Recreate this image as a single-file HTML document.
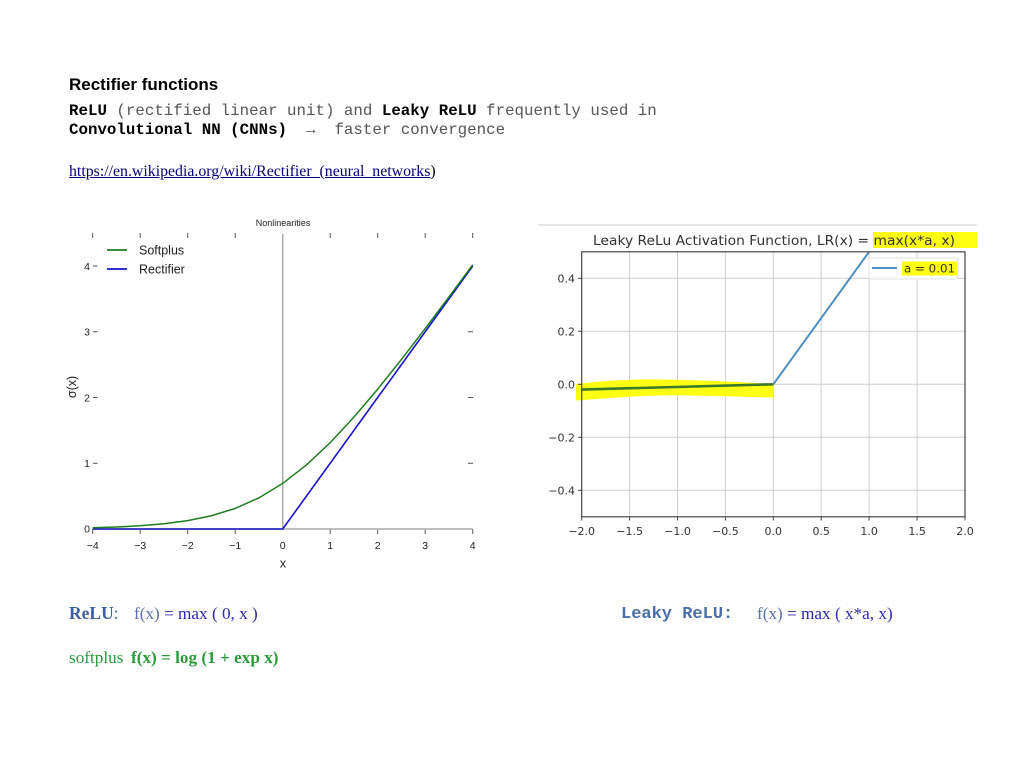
<!DOCTYPE html>
<html>
<head>
<meta charset="utf-8">
<style>
  html,body{margin:0;padding:0;background:#fff;}
  body{width:1024px;height:768px;overflow:hidden;position:relative;}
  .t{position:absolute;white-space:pre;line-height:1;}
  .mono{font-family:"Liberation Mono",monospace;}
  .serif{font-family:"Liberation Serif",serif;}
  .sans{font-family:"Liberation Sans",sans-serif;}
  svg{position:absolute;left:0;top:0;}
</style>
</head>
<body>

<div class="t sans" style="left:69px;top:76px;font-size:17px;font-weight:bold;color:#000;">Rectifier functions</div>

<div class="t mono" style="left:69px;top:104px;font-size:15.8px;color:#555;"><b style="color:#000">ReLU</b> (rectified linear unit) and <b style="color:#000">Leaky ReLU</b> frequently used in</div>
<div class="t mono" style="left:69px;top:123px;font-size:15.8px;color:#555;"><b style="color:#000">Convolutional NN (CNNs)</b>  →  faster convergence</div>

<div class="t serif" style="left:69px;top:164px;font-size:15.85px;color:#000;"><span style="color:#00007a;text-decoration:underline;">https://en.wikipedia.org/wiki/Rectifier_(neural_networks</span>)</div>

<!-- bottom formulas -->
<div class="t serif" style="left:69px;top:605px;font-size:17.5px;"><b style="color:#3b5fa0">ReLU</b><span style="color:#3b5fa0">:</span></div>
<div class="t serif" style="left:134px;top:605px;font-size:17.2px;color:#2a2ab0;"><span style="color:#5a70a8">f(x)</span> = max ( 0, x )</div>

<div class="t mono" style="left:621px;top:606px;font-size:17px;font-weight:bold;color:#4a6ea8;">Leaky ReLU:</div>
<div class="t serif" style="left:757px;top:605px;font-size:17.2px;color:#2a2ab0;"><span style="color:#5a70a8">f(x)</span> = max ( x*a, x)</div>

<div class="t serif" style="left:69px;top:649px;font-size:17.2px;color:#2a9a3a;">softplus</div>
<div class="t serif" style="left:131px;top:649px;font-size:17.2px;font-weight:bold;color:#2a9a3a;">f(x) = log (1 + exp x)</div>

<svg width="1024" height="768" viewBox="0 0 1024 768" xmlns="http://www.w3.org/2000/svg">
  <!-- LEFT CHART -->
  <g font-family="Liberation Sans, sans-serif" fill="#222">
    <text x="283" y="226" font-size="9" text-anchor="middle">Nonlinearities</text>
    <g stroke="#555" stroke-width="1">
      <line x1="92.7" y1="233" x2="92.7" y2="238"/>
      <line x1="140.2" y1="233" x2="140.2" y2="238"/>
      <line x1="187.7" y1="233" x2="187.7" y2="238"/>
      <line x1="235.2" y1="233" x2="235.2" y2="238"/>
      <line x1="330.2" y1="233" x2="330.2" y2="238"/>
      <line x1="377.7" y1="233" x2="377.7" y2="238"/>
      <line x1="425.2" y1="233" x2="425.2" y2="238"/>
      <line x1="472.7" y1="233" x2="472.7" y2="238"/>
      <line x1="93" y1="266" x2="97.5" y2="266"/>
      <line x1="93" y1="331.7" x2="97.5" y2="331.7"/>
      <line x1="93" y1="397.5" x2="97.5" y2="397.5"/>
      <line x1="93" y1="463.3" x2="97.5" y2="463.3"/>
      <line x1="468" y1="331.7" x2="473" y2="331.7"/>
      <line x1="468" y1="397.5" x2="473" y2="397.5"/>
      <line x1="468" y1="463.3" x2="473" y2="463.3"/>
      <line x1="92.7" y1="529" x2="92.7" y2="534"/>
      <line x1="140.2" y1="529" x2="140.2" y2="534"/>
      <line x1="187.7" y1="529" x2="187.7" y2="534"/>
      <line x1="235.2" y1="529" x2="235.2" y2="534"/>
      <line x1="330.2" y1="529" x2="330.2" y2="534"/>
      <line x1="377.7" y1="529" x2="377.7" y2="534"/>
      <line x1="425.2" y1="529" x2="425.2" y2="534"/>
      <line x1="472.7" y1="529" x2="472.7" y2="534"/>
    </g>
    <line x1="282.7" y1="234" x2="282.7" y2="529" stroke="#aaa" stroke-width="1.5"/>
    <line x1="92.7" y1="529" x2="472.7" y2="529" stroke="#aaa" stroke-width="1.5"/>
    <g font-size="10.5" text-anchor="end">
      <text x="90" y="270">4</text>
      <text x="90" y="335.5">3</text>
      <text x="90" y="401.5">2</text>
      <text x="90" y="467">1</text>
      <text x="90" y="532.5">0</text>
    </g>
    <g font-size="10.5" text-anchor="middle">
      <text x="92.7" y="549">−4</text>
      <text x="140.2" y="549">−3</text>
      <text x="187.7" y="549">−2</text>
      <text x="235.2" y="549">−1</text>
      <text x="282.7" y="549">0</text>
      <text x="330.2" y="549">1</text>
      <text x="377.7" y="549">2</text>
      <text x="425.2" y="549">3</text>
      <text x="472.7" y="549">4</text>
    </g>
    <text x="283" y="567.5" font-size="12.5" text-anchor="middle">x</text>
    <text x="0" y="0" font-size="12.5" text-anchor="middle" transform="translate(76,387) rotate(-90)">σ(x)</text>
    <line x1="107" y1="250" x2="127" y2="250" stroke="#1e7d1e" stroke-width="1.8"/>
    <line x1="107" y1="269" x2="127" y2="269" stroke="#1414c8" stroke-width="1.8"/>
    <text x="139" y="254.5" font-size="12.5">Softplus</text>
    <text x="139" y="273.5" font-size="12.5">Rectifier</text>
    <polyline fill="none" stroke="#1414c8" stroke-width="1.6" points="92.7,529 282.7,529 472.7,266"/>
    <polyline fill="none" stroke="#1e7d1e" stroke-width="1.5" points="92.7,527.8 116.45,527.04 140.2,525.8 163.95,523.8 187.7,520.65 211.45,515.76 235.2,508.4 258.95,497.83 282.7,483.43 306.45,464.95 330.2,442.65 353.95,417.13 377.7,389.16 401.45,359.44 425.2,328.56 448.95,296.92 472.7,264.81"/>
  </g>

  <!-- RIGHT CHART -->
  <line x1="538" y1="225" x2="977" y2="225" stroke="#dedede" stroke-width="1.5"/>
  <rect x="873" y="232" width="104" height="16" fill="#ffff14"/>
  <text x="593" y="245" font-family="DejaVu Sans, sans-serif" font-size="13" fill="#333" textLength="362" lengthAdjust="spacingAndGlyphs">Leaky ReLu Activation Function, LR(x) = max(x*a, x)</text>

  <g stroke="#cfcfcf" stroke-width="1">
    <line x1="629.6" y1="251.8" x2="629.6" y2="516.8"/>
    <line x1="677.5" y1="251.8" x2="677.5" y2="516.8"/>
    <line x1="725.4" y1="251.8" x2="725.4" y2="516.8"/>
    <line x1="773.3" y1="251.8" x2="773.3" y2="516.8"/>
    <line x1="821.2" y1="251.8" x2="821.2" y2="516.8"/>
    <line x1="869.1" y1="251.8" x2="869.1" y2="516.8"/>
    <line x1="917.1" y1="251.8" x2="917.1" y2="516.8"/>
    <line x1="581.7" y1="278.3" x2="965" y2="278.3"/>
    <line x1="581.7" y1="331.3" x2="965" y2="331.3"/>
    <line x1="581.7" y1="384.3" x2="965" y2="384.3"/>
    <line x1="581.7" y1="437.3" x2="965" y2="437.3"/>
    <line x1="581.7" y1="490.3" x2="965" y2="490.3"/>
  </g>
  <path d="M576,384 C600,381 630,379 660,379.5 C700,380 740,382 773,384 L773,397.5 C740,397 700,395 660,395.5 C630,396 600,399 576,400.5 Z" fill="#ffff14"/>
  <polyline fill="none" stroke="#3a7a2a" stroke-width="2.6" points="581.7,389.6 773.3,384.3"/>
  <polyline fill="none" stroke="#4f8fc4" stroke-width="2" points="773.3,384.3 869.1,251.8"/>
  <rect x="581.7" y="251.8" width="383.3" height="265" fill="none" stroke="#444" stroke-width="1.2"/>
  <g stroke="#444" stroke-width="1">
    <line x1="581.7" y1="516.8" x2="581.7" y2="520.5"/>
    <line x1="629.6" y1="516.8" x2="629.6" y2="520.5"/>
    <line x1="677.5" y1="516.8" x2="677.5" y2="520.5"/>
    <line x1="725.4" y1="516.8" x2="725.4" y2="520.5"/>
    <line x1="773.3" y1="516.8" x2="773.3" y2="520.5"/>
    <line x1="821.2" y1="516.8" x2="821.2" y2="520.5"/>
    <line x1="869.1" y1="516.8" x2="869.1" y2="520.5"/>
    <line x1="917.1" y1="516.8" x2="917.1" y2="520.5"/>
    <line x1="965" y1="516.8" x2="965" y2="520.5"/>
    <line x1="578" y1="278.3" x2="581.7" y2="278.3"/>
    <line x1="578" y1="331.3" x2="581.7" y2="331.3"/>
    <line x1="578" y1="384.3" x2="581.7" y2="384.3"/>
    <line x1="578" y1="437.3" x2="581.7" y2="437.3"/>
    <line x1="578" y1="490.3" x2="581.7" y2="490.3"/>
  </g>
  <g font-family="DejaVu Sans, sans-serif" font-size="11" fill="#333">
    <g text-anchor="end">
      <text x="575" y="282.5">0.4</text>
      <text x="575" y="335.5">0.2</text>
      <text x="575" y="388.5">0.0</text>
      <text x="575" y="441.5">−0.2</text>
      <text x="575" y="494.5">−0.4</text>
    </g>
    <g text-anchor="middle">
      <text x="581.7" y="535">−2.0</text>
      <text x="629.6" y="535">−1.5</text>
      <text x="677.5" y="535">−1.0</text>
      <text x="725.4" y="535">−0.5</text>
      <text x="773.3" y="535">0.0</text>
      <text x="821.2" y="535">0.5</text>
      <text x="869.1" y="535">1.0</text>
      <text x="917.1" y="535">1.5</text>
      <text x="965" y="535">2.0</text>
    </g>
  </g>
  <rect x="869" y="258" width="89" height="21" fill="#fff" stroke="#e0e0e0" stroke-width="1" rx="2"/>
  <line x1="872" y1="268" x2="897" y2="268" stroke="#4f8fc4" stroke-width="2"/>
  <rect x="902" y="261.5" width="55" height="14" fill="#ffff14"/>
  <text x="904" y="272.5" font-family="DejaVu Sans, sans-serif" font-size="11.5" fill="#333" textLength="51" lengthAdjust="spacingAndGlyphs">a = 0.01</text>
</svg>

</body>
</html>
